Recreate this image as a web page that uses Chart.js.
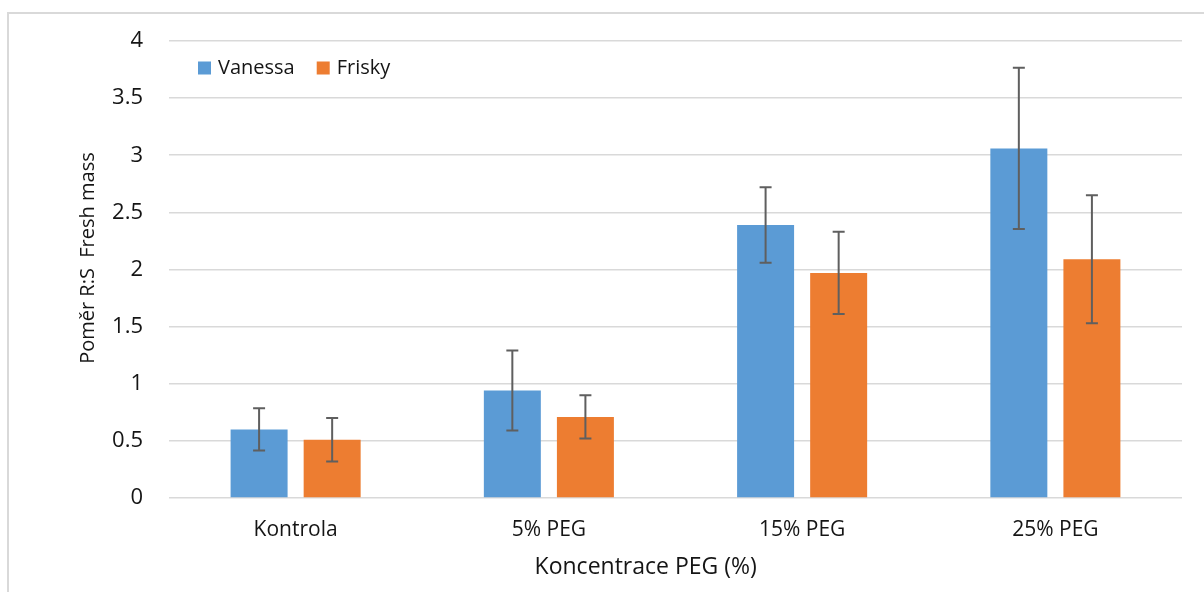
<!DOCTYPE html>
<html>
<head>
<meta charset="utf-8">
<script src="https://cdn.jsdelivr.net/npm/chart.js@4.4.1/dist/chart.umd.min.js"></script>
<style>
  html, body { margin:0; padding:0; background:#fff; overflow:hidden; }
  #frame { position:absolute; left:7px; top:12px; width:1300px; height:700px; border-left:2px solid #d9d9d9; border-top:2px solid #d9d9d9; }
  #wrap { position:absolute; left:0; top:0; width:1204px; height:592px; }
</style>
</head>
<body>
<div id="frame"></div>
<div id="wrap"><canvas id="chart" width="1204" height="592"></canvas></div>
<script>
// données
const categories = ['Kontrola', '5% PEG', '15% PEG', '25% PEG'];
const vanessa = [0.60, 0.94, 2.39, 3.06];
const frisky = [0.51, 0.71, 1.97, 2.09];
const vanessaErr = [0.185, 0.35, 0.33, 0.705];
const friskyErr = [0.19, 0.19, 0.36, 0.56];
const yMin = 0, yMax = 4, yStep = 0.5;
const xTitle = 'Koncentrace PEG (%)';
const yTitle = 'Poměr R:S  Fresh mass';

const FONT = '"Open Sans", sans-serif';
const TEXT = '#151515';

// barres d'erreur
const errorBars = {
  id: 'errorBars',
  afterDatasetsDraw(chart) {
    const ctx = chart.ctx, y = chart.scales.y;
    chart.data.datasets.forEach((ds, i) => {
      const meta = chart.getDatasetMeta(i);
      meta.data.forEach((bar, j) => {
        const v = ds.data[j], e = ds.errors[j];
        const top = y.getPixelForValue(v + e), bot = y.getPixelForValue(v - e);
        ctx.save();
        ctx.strokeStyle = '#5f5f5f';
        ctx.lineWidth = 2;
        ctx.beginPath();
        ctx.moveTo(bar.x, top); ctx.lineTo(bar.x, bot);
        ctx.moveTo(bar.x - 6, top); ctx.lineTo(bar.x + 6, top);
        ctx.moveTo(bar.x - 6, bot); ctx.lineTo(bar.x + 6, bot);
        ctx.stroke();
        ctx.restore();
      });
    });
  }
};

// légende dans la zone du graphique + titres des axes
const extras = {
  id: 'extras',
  afterDraw(chart) {
    const ctx = chart.ctx, a = chart.chartArea;
    ctx.save();
    ctx.font = '20px ' + FONT;
    ctx.fillStyle = TEXT;
    ctx.textBaseline = 'middle';
    let x = a.left + 29;
    const yc = a.top + 27;
    chart.data.datasets.forEach(ds => {
      ctx.fillStyle = ds.backgroundColor;
      ctx.fillRect(x, yc - 6.5, 13, 13);
      ctx.fillStyle = TEXT;
      ctx.textAlign = 'left';
      ctx.fillText(ds.label, x + 20, yc);
      x += 20 + ctx.measureText(ds.label).width + 22;
    });
    // titre axe X
    ctx.font = '23px ' + FONT;
    ctx.textAlign = 'center';
    ctx.fillText(xTitle, a.left + a.width * 0.4706, 567);
    // titre axe Y
    ctx.font = '20px ' + FONT;
    ctx.translate(88, a.top + a.height * 0.475);
    ctx.rotate(-Math.PI / 2);
    ctx.fillText(yTitle, 0, 0);
    ctx.restore();
  }
};

new Chart(document.getElementById('chart'), {
  type: 'bar',
  data: {
    labels: categories,
    datasets: [
      { label: 'Vanessa', data: vanessa, errors: vanessaErr, backgroundColor: '#5b9bd5' },
      { label: 'Frisky', data: frisky, errors: friskyErr, backgroundColor: '#ed7d31' }
    ]
  },
  options: {
    responsive: false,
    animation: false,
    datasets: { bar: { categoryPercentage: 0.577, barPercentage: 0.78 } },
    layout: { padding: { left: 0, right: 22, top: 41, bottom: 0 } },
    plugins: { legend: { display: false }, tooltip: { enabled: false } },
    scales: {
      x: {
        grid: { display: false, drawTicks: false },
        border: { display: false },
        ticks: { color: TEXT, font: { family: FONT, size: 21 }, padding: 19 },
        afterFit(s) { s.height = 94; }
      },
      y: {
        min: yMin, max: yMax,
        grid: { color: '#d9d9d9', lineWidth: 1.6, drawTicks: false },
        border: { display: false },
        ticks: { stepSize: yStep, color: TEXT, font: { family: FONT, size: 22 }, padding: 26, callback: v => String(v) },
        afterFit(s) { s.width = 169; }
      }
    }
  },
  plugins: [errorBars, extras]
});
</script>
</body>
</html>
